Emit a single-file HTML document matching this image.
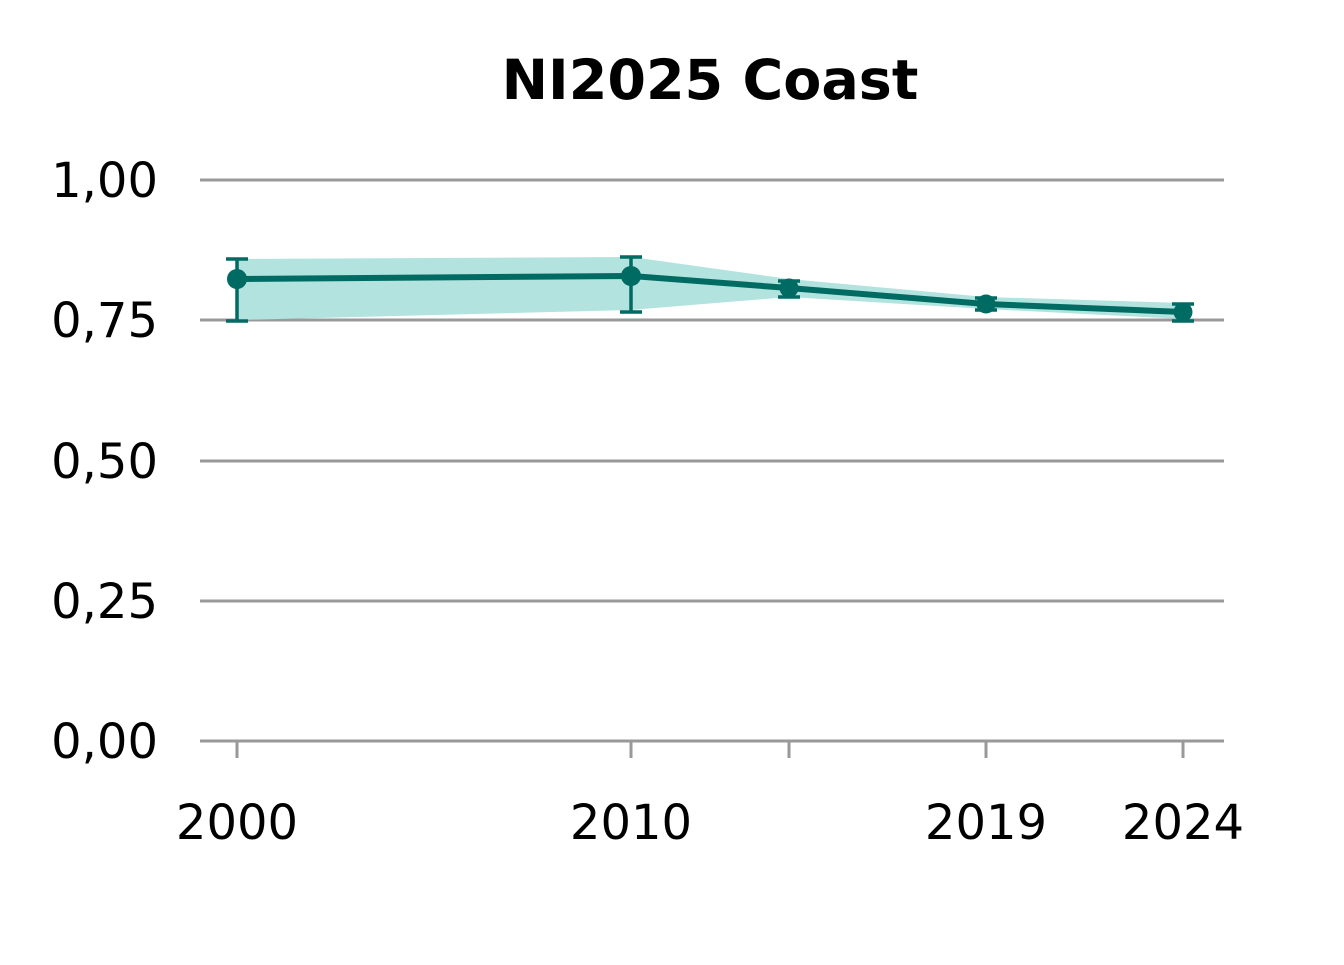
<!DOCTYPE html>
<html><head><meta charset="utf-8"><style>body{margin:0;background:#fff}</style></head><body>
<svg width="1344" height="960" xmlns="http://www.w3.org/2000/svg" font-family="DejaVu Sans, Liberation Sans, sans-serif">
<rect width="1344" height="960" fill="#fff"/>
<text x="710" y="99" text-anchor="middle" font-size="55.5" font-weight="bold">NI2025 Coast</text>
<g stroke="#999" stroke-width="3">
<line x1="200" x2="1224" y1="180" y2="180"/>
<line x1="200" x2="1224" y1="320" y2="320"/>
<line x1="200" x2="1224" y1="461" y2="461"/>
<line x1="200" x2="1224" y1="601" y2="601"/>
<line x1="200" x2="1224" y1="741" y2="741"/>
<line x1="237" x2="237" y1="741" y2="758"/>
<line x1="631" x2="631" y1="741" y2="758"/>
<line x1="789" x2="789" y1="741" y2="758"/>
<line x1="986" x2="986" y1="741" y2="758"/>
<line x1="1183" x2="1183" y1="741" y2="758"/>
</g>
<g font-size="48" text-anchor="end">
<text x="158" y="197">1,00</text>
<text x="158" y="337">0,75</text>
<text x="158" y="478">0,50</text>
<text x="158" y="618">0,25</text>
<text x="158" y="758">0,00</text>
</g>
<g font-size="48" text-anchor="middle">
<text x="237" y="839">2000</text>
<text x="631" y="839">2010</text>
<text x="986" y="839">2019</text>
<text x="1183" y="839">2024</text>
</g>
<polygon points="237,259 631,257 789,279 986,297 1183,303 1183,319 986,309 789,297 631,310 237,320" fill="#b2e3df"/>
<g stroke="#006b63" stroke-width="3.5" fill="none">
<path d="M237,259V321M226,259H248M226,321H248"/>
<path d="M631,257V312M620,257H642M620,312H642"/>
<path d="M789,281V297M778,281H800M778,297H800"/>
<path d="M986,298V310M975,298H997M975,310H997"/>
<path d="M1183,304V321M1172,304H1194M1172,321H1194"/>
</g>
<polyline points="237,279 631,276 789,288 986,304 1183,312" fill="none" stroke="#006b63" stroke-width="6"/>
<g fill="#006b63">
<circle cx="237" cy="279" r="10"/><circle cx="631" cy="276" r="10"/><circle cx="789" cy="288" r="9.5"/><circle cx="986" cy="304" r="9.5"/><circle cx="1183" cy="312" r="9.5"/>
</g>
</svg>
</body></html>
